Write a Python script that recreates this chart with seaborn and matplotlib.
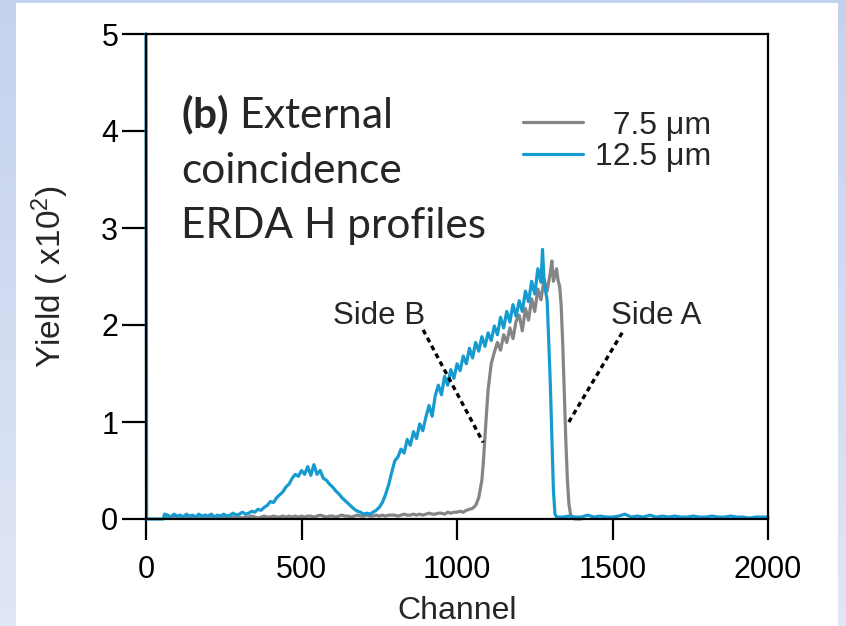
import numpy as np
import pandas as pd
import matplotlib
matplotlib.use("Agg")
import matplotlib.pyplot as plt
from matplotlib.colors import LinearSegmentedColormap
from matplotlib.patches import Rectangle
import seaborn as sns

# ---------------- data ----------------
blue_channels = ([0, 2, 55] + list(range(60, 1271, 10))
                 + [1275, 1280, 1290, 1300, 1310, 1315, 1320]
                 + list(range(1340, 2001, 20)))
blue_yield = ([5.0, 0.0, 0.0]
              + [0.05, 0.04, 0.02, 0.05]
              + [0.03, 0.04, 0.02, 0.05, 0.03, 0.04, 0.02, 0.05, 0.03, 0.04]
              + [0.03, 0.05, 0.02, 0.04, 0.03, 0.05, 0.03, 0.04, 0.06, 0.04]
              + [0.05, 0.07, 0.05, 0.06, 0.08, 0.07, 0.10, 0.09, 0.12, 0.14]
              + [0.18, 0.17, 0.22, 0.25, 0.28, 0.33, 0.36, 0.42, 0.46, 0.44]
              + [0.50, 0.46, 0.54, 0.45, 0.56, 0.46, 0.50, 0.42, 0.40, 0.36]
              + [0.33, 0.29, 0.26, 0.22, 0.19, 0.16, 0.13, 0.10, 0.08, 0.07]
              + [0.05, 0.06, 0.05, 0.07, 0.09, 0.12, 0.17, 0.25, 0.35, 0.48]
              + [0.60, 0.64, 0.72, 0.68, 0.82, 0.76, 0.90, 0.83, 0.98, 0.91]
              + [1.05, 1.17, 1.06, 1.27, 1.38, 1.28, 1.47, 1.38, 1.54, 1.45]
              + [1.60, 1.53, 1.68, 1.60, 1.76, 1.66, 1.82, 1.73, 1.88, 1.78]
              + [1.92, 1.84, 1.99, 1.90, 2.08, 1.97, 2.14, 2.03, 2.21, 2.09]
              + [2.25, 2.14, 2.35, 2.24, 2.45, 2.32, 2.58, 2.44]
              + [2.78, 2.45, 2.25, 1.40, 0.30, 0.05, 0.02]
              + [0.02, 0.03, 0.02, 0.02, 0.04, 0.02, 0.03, 0.02, 0.02, 0.03]
              + [0.05, 0.02, 0.03, 0.02, 0.04, 0.02, 0.03, 0.02, 0.03, 0.02]
              + [0.02, 0.03, 0.02, 0.02, 0.03, 0.02, 0.02, 0.03, 0.02, 0.02]
              + [0.01, 0.02, 0.02, 0.02])

gray_channels = (list(range(60, 1061, 10))
                 + [1070, 1080, 1085, 1090, 1095, 1100, 1105, 1110]
                 + list(range(1120, 1301, 10))
                 + [1305, 1310, 1320, 1325, 1330, 1335, 1340, 1345, 1350,
                    1355, 1360, 1365, 1370, 1380, 1400])
gray_yield = ([0.01, 0.02, 0.01, 0.02]
              + [0.01, 0.02, 0.01, 0.02, 0.02, 0.01, 0.02, 0.01, 0.02, 0.01]
              + [0.02, 0.01, 0.02, 0.02, 0.01, 0.02, 0.01, 0.02, 0.02, 0.01]
              + [0.02, 0.01, 0.02, 0.02, 0.03, 0.02, 0.01, 0.02, 0.03, 0.02]
              + [0.02, 0.03, 0.02, 0.02, 0.03, 0.02, 0.03, 0.02, 0.03, 0.02]
              + [0.03, 0.02, 0.03, 0.03, 0.02, 0.03, 0.04, 0.03, 0.02, 0.03]
              + [0.03, 0.02, 0.03, 0.04, 0.03, 0.03, 0.02, 0.03, 0.04, 0.03]
              + [0.03, 0.04, 0.03, 0.03, 0.04, 0.03, 0.04, 0.03, 0.04, 0.04]
              + [0.04, 0.03, 0.04, 0.05, 0.04, 0.04, 0.05, 0.04, 0.05, 0.04]
              + [0.05, 0.06, 0.05, 0.05, 0.06, 0.06, 0.05, 0.07, 0.06, 0.07]
              + [0.07, 0.08, 0.07, 0.09, 0.10, 0.11, 0.14]
              + [0.22, 0.40, 0.60, 0.85, 1.10, 1.33, 1.47, 1.60]
              + [1.72, 1.82, 1.74, 1.90, 1.82, 1.97, 1.86, 2.04, 2.10, 1.94,
                 2.17, 2.05, 2.27, 2.14, 2.37, 2.26, 2.47, 2.35, 2.54]
              + [2.66, 2.45, 2.58, 2.46, 2.40, 2.20, 1.80, 1.30, 0.80,
                 0.40, 0.15, 0.05, 0.01, 0.0, 0.0])

series_names = ["7.5 μm", "12.5 μm"]
legend_labels = ["  7.5 μm", "12.5 μm"]
x_ticks = [0, 500, 1000, 1500, 2000]
y_ticks = [0, 1, 2, 3, 4, 5]
x_label = "Channel"
y_label = "Yield ( x10$^{2}$)"
panel_lines = ["External", "coincidence", "ERDA H profiles"]

# annotation geometry (data coords)
side_b_text = (749, 2.09)
side_b_line = ([891, 1084], [1.95, 0.79])
side_a_text = (1640, 2.09)
side_a_line = ([1531, 1354], [1.92, 0.97])

# ---------------- styling ----------------
sns.set_style("ticks")
plt.rcParams["font.family"] = ["Liberation Sans", "DejaVu Sans"]
plt.rcParams["mathtext.fontset"] = "custom"
plt.rcParams["mathtext.rm"] = "Liberation Sans"
plt.rcParams["mathtext.it"] = "Liberation Sans:italic"
plt.rcParams["mathtext.bf"] = "Lato:bold"

GRAY = "#858585"
BLUE = "#169bd0"

df = pd.concat([
    pd.DataFrame({"Channel": gray_channels, "Yield": gray_yield, "Sample": series_names[0]}),
    pd.DataFrame({"Channel": blue_channels, "Yield": blue_yield, "Sample": series_names[1]}),
], ignore_index=True)

fig = plt.figure(figsize=(8.46, 6.26), dpi=100)

# slide-like background
bg = fig.add_axes([0, 0, 1, 1], zorder=-10)
grad = np.linspace(0, 1, 256).reshape(-1, 1)
cmap = LinearSegmentedColormap.from_list("bg", ["#c5d2ee", "#dfe6f5"])
bg.imshow(grad, cmap=cmap, aspect="auto", extent=[0, 1, 0, 1], origin="upper")
bg.add_patch(Rectangle((16 / 846, 0), (838 - 16) / 846, 1 - 3 / 626,
                       facecolor="white", edgecolor="none"))
bg.set_xlim(0, 1)
bg.set_ylim(0, 1)
bg.axis("off")

ax = fig.add_axes([146 / 846, 1 - 519 / 626, (768 - 146) / 846, (519 - 34) / 626])
ax.patch.set_alpha(0)

sns.lineplot(data=df, x="Channel", y="Yield", hue="Sample",
             hue_order=series_names, palette={series_names[0]: GRAY, series_names[1]: BLUE},
             estimator=None, sort=False, linewidth=2.3, legend=False, ax=ax)
for ln in ax.lines:
    ln.set_clip_on(False)

ax.set_xlim(0, 2000)
ax.set_ylim(0, 5)
ax.set_xticks(x_ticks)
ax.set_yticks(y_ticks)
for sp in ax.spines.values():
    sp.set_linewidth(1.6)
    sp.set_color("black")
ax.tick_params(axis="x", direction="out", length=15, width=1.6, pad=11, labelsize=22, colors="black")
ax.tick_params(axis="y", direction="out", length=17, width=1.6, pad=3, labelsize=22, colors="black")
ax.set_xlabel(x_label, fontsize=23, labelpad=8)
ax.set_ylabel(y_label, fontsize=24, labelpad=22)

# legend (right aligned text)
leg = ax.legend(handles=ax.lines[:2], labels=legend_labels, loc="upper right",
                bbox_to_anchor=(0.908, 0.842), frameon=False, fontsize=23,
                handlelength=1.9, handletextpad=0.35, labelspacing=0.05,
                borderpad=0, borderaxespad=0)

# Side A / Side B annotations
ax.plot(*side_b_line, color="black", lw=2.4, ls=(0, (1.5, 1.2)), clip_on=False)
ax.plot(*side_a_line, color="black", lw=2.4, ls=(0, (1.5, 1.2)), clip_on=False)
ax.text(*side_b_text, "Side B", fontsize=22.5, ha="center", va="center")
ax.text(*side_a_text, "Side A", fontsize=22.5, ha="center", va="center")

# panel text (slide overlay, Calibri-like)
ax.text(112, 4.03, r"$\bf{(b)}$ " + panel_lines[0], fontsize=30.5, family="Lato", va="baseline")
ax.text(112, 3.46, panel_lines[1], fontsize=30.5, family="Lato", va="baseline")
ax.text(112, 2.90, panel_lines[2], fontsize=30.5, family="Lato", va="baseline")

fig.savefig("out.png", dpi=100)
